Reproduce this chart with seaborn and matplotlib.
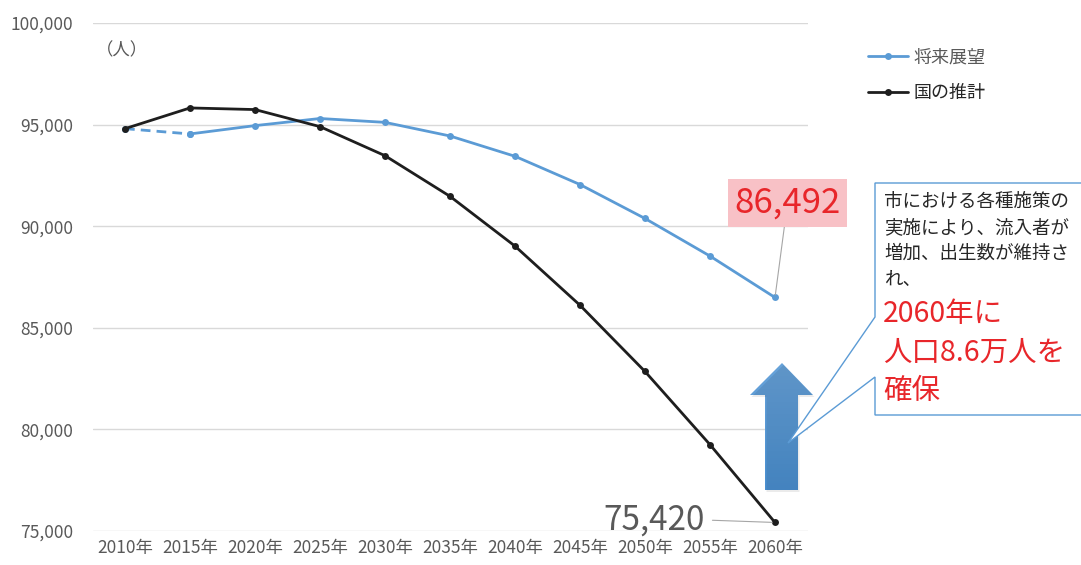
import matplotlib
matplotlib.use('Agg')
import matplotlib.pyplot as plt
from matplotlib.patches import Polygon
from matplotlib.lines import Line2D
import numpy as np
import pandas as pd
import seaborn as sns

# data
years = ['2010年', '2015年', '2020年', '2025年', '2030年', '2035年',
         '2040年', '2045年', '2050年', '2055年', '2060年']
future = [94800, 94540, 94950, 95300, 95110, 94440, 93440, 92050, 90380, 88530, 86492]
national = [94800, 95820, 95740, 94900, 93470, 91470, 89020, 86110, 82850, 79250, 75420]
yticks = [75000, 80000, 85000, 90000, 95000, 100000]

sns.set_style('white')
plt.rcParams['font.family'] = ['Noto Sans CJK JP', 'DejaVu Sans']

BLUE = '#5B9BD5'
BLACK = '#1E1E1E'
GRAY = '#595959'
RED = '#E8262A'
W, H = 1081, 565

df = pd.DataFrame({'pos': range(len(years)), 'year': years,
                   'future': future, 'national': national})

fig = plt.figure(figsize=(W / 100, H / 100), dpi=100)
ax = fig.add_axes([92.5 / W, 1 - 531 / H, 715 / W, 508 / H])

line_kw = dict(lw=2, marker='o', markersize=5, markeredgewidth=0)
# first segment of the outlook is dashed
sns.lineplot(data=df.iloc[:2], x='pos', y='future', ax=ax, color=BLUE,
             linestyle=(0, (3.5, 2.2)), **line_kw)
sns.lineplot(data=df.iloc[1:], x='pos', y='future', ax=ax, color=BLUE, **line_kw)
sns.lineplot(data=df, x='pos', y='national', ax=ax, color=BLACK, **line_kw)

ax.set_xlim(-0.5, len(years) - 0.5)
ax.set_ylim(75000, 100000)
ax.set_xticks(range(len(years)))
ax.set_xticklabels(years)
ax.set_yticks(yticks)
ax.set_yticklabels([f'{v:,}' for v in yticks])
ax.set_xlabel('')
ax.set_ylabel('')
ax.yaxis.grid(True, color='#D9D9D9', lw=1)
ax.set_axisbelow(True)
sns.despine(ax=ax, left=True, bottom=True)
ax.tick_params(axis='y', length=0, pad=14, labelsize=12.5, labelcolor=GRAY)
ax.tick_params(axis='x', length=0, pad=6, labelsize=12.5, labelcolor=GRAY)

handles = [Line2D([], [], color=BLUE, **line_kw), Line2D([], [], color=BLACK, **line_kw)]
leg = ax.legend(handles, ['将来展望', '国の推計'], loc='upper left',
                bbox_to_anchor=(852 / W, 1 - 32 / H), bbox_transform=fig.transFigure,
                frameon=False, fontsize=13, handlelength=2.2, handletextpad=0.3,
                labelspacing=1.0)
leg.get_texts()[0].set_color(GRAY)
leg.get_texts()[1].set_color('#262626')

# value labels
ax.annotate('86,492', xy=(len(years) - 1, future[-1]), xytext=(787.5, H - 203),
            textcoords='figure pixels', ha='center', va='center', fontsize=25,
            color=RED, bbox=dict(boxstyle='square,pad=0.18', fc='#F8C1C6', ec='none'),
            arrowprops=dict(arrowstyle='-', color='#A6A6A6', lw=0.8, shrinkA=0, shrinkB=2))
ax.annotate('75,420', xy=(len(years) - 1, national[-1]), xytext=(705, H - 520),
            textcoords='figure pixels', ha='right', va='center', fontsize=24,
            color=GRAY,
            arrowprops=dict(arrowstyle='-', color='#A6A6A6', lw=0.8, relpos=(1, 0.5),
                            shrinkA=3, shrinkB=2))

# overlay in pixel coordinates for the callout and arrow
ov = fig.add_axes([0, 0, 1, 1])
ov.set_xlim(0, W)
ov.set_ylim(H, 0)
ov.axis('off')

ov.text(96, 50, '（人）', fontsize=12.5, color=GRAY, va='center')

arrow = [(782, 363), (813, 395), (798, 395), (798, 490), (765, 490), (765, 395), (750, 395)]
ov.add_patch(Polygon([(x + 1.5, y + 2) for x, y in arrow], closed=True, fc='#000000',
                     alpha=0.08, ec='none'))
arrow_patch = Polygon(arrow, closed=True, fc='none', ec='none')
ov.add_patch(arrow_patch)
grad = np.linspace(0, 1, 128).reshape(-1, 1)
img = ov.imshow(grad, cmap=matplotlib.colors.LinearSegmentedColormap.from_list(
    'arr', ['#68A3DA', '#4A8FD0']), extent=(750, 813, 490, 363), aspect='auto')
img.set_clip_path(arrow_patch)
ov.set_xlim(0, W)
ov.set_ylim(H, 0)

callout = [(875, 183), (1090, 183), (1090, 415), (875, 415), (875, 377),
           (788, 443), (875, 317)]
ov.add_patch(Polygon(callout, closed=True, fc='white', ec=BLUE, lw=1))

black_lines = ['市における各種施策の', '実施により、流入者が', '増加、出生数が維持さ', 'れ、']
for i, s in enumerate(black_lines):
    ov.text(884, 202 + i * 26, s, fontsize=13.3, color='#262626', va='center')
red_lines = ['2060年に', '人口8.6万人を', '確保']
for y, s in zip([314, 353, 391], red_lines):
    ov.text(883, y, s, fontsize=20.5, color=RED, va='center')

fig.savefig('out.png', dpi=100)
